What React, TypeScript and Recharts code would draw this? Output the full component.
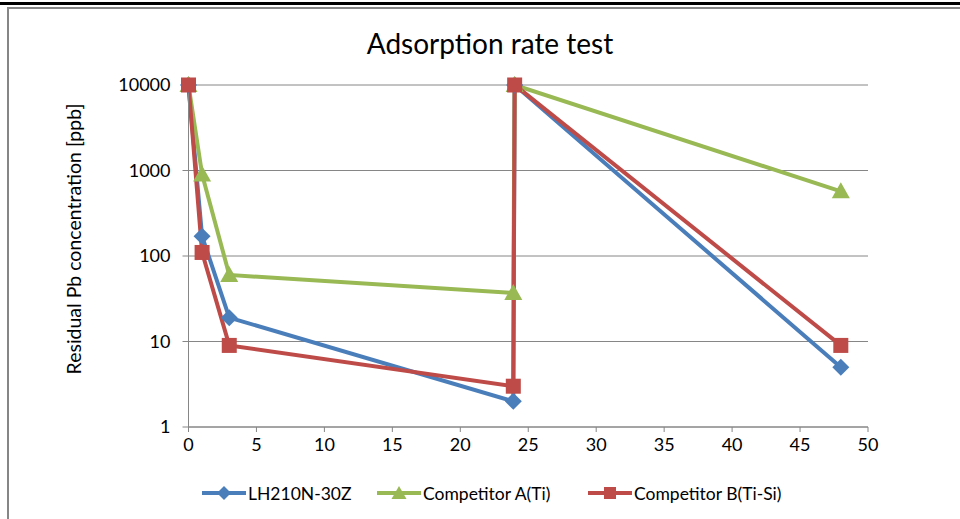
import React from 'react';
import { LineChart, Line, XAxis, YAxis, CartesianGrid, Legend, Label } from 'recharts';

const chartTitle = 'Adsorption rate test';
const yAxisTitle = 'Residual Pb concentration [ppb]';
const seriesNames = ['LH210N-30Z', 'Competitor A(Ti)', 'Competitor B(Ti-Si)'];
const seriesColors = ['#4A7EBB', '#98B954', '#BE4B48'];

const lhHours = [0, 1, 3, 23.9, 24, 48];
const lhValues = [10000, 170, 19, 2, 10000, 5];
const aHours = [0, 1, 3, 23.9, 24, 48];
const aValues = [10000, 900, 60, 37, 10000, 570];
const bHours = [0, 1, 3, 23.9, 24, 48];
const bValues = [10000, 110, 9, 3, 10000, 9];

const xTicks = [0, 5, 10, 15, 20, 25, 30, 35, 40, 45, 50];
const yTicks = [1, 10, 100, 1000, 10000];

const rows = (xs: number[], ys: number[]) => xs.map((x, i) => ({ x, y: ys[i] }));
const lhRows = rows(lhHours, lhValues);
const aRows = rows(aHours, aValues);
const bRows = rows(bHours, bValues);

const FONT = 'Lato, "Open Sans", sans-serif';

const DiamondDot = (p: any) => {
  const { cx, cy, fill } = p;
  if (cx == null || cy == null) return null;
  const r = 8.5;
  return <path d={`M${cx},${cy - r}L${cx + r},${cy}L${cx},${cy + r}L${cx - r},${cy}Z`} fill={fill} />;
};
const TriangleDot = (p: any) => {
  const { cx, cy, fill } = p;
  if (cx == null || cy == null) return null;
  return <path d={`M${cx},${cy - 9}L${cx + 9},${cy + 7}L${cx - 9},${cy + 7}Z`} fill={fill} />;
};
const SquareDot = (p: any) => {
  const { cx, cy, fill } = p;
  if (cx == null || cy == null) return null;
  return <rect x={cx - 7.5} y={cy - 7.5} width={15} height={15} fill={fill} />;
};

const legendIcon = (i: number) => {
  const c = seriesColors[i];
  return (
    <svg width={44} height={18} style={{ display: 'block' }}>
      <line x1={0} y1={9} x2={44} y2={9} stroke={c} strokeWidth={4} />
      {i === 0 && <path d="M22,2L29,9L22,16L15,9Z" fill={c} />}
      {i === 1 && <path d="M22,2L29.5,15L14.5,15Z" fill={c} />}
      {i === 2 && <rect x={16} y={3} width={12} height={12} fill={c} />}
    </svg>
  );
};

const renderLegend = () => (
  <div style={{ display: 'flex', alignItems: 'center', height: 20, fontFamily: FONT, fontSize: 17.5, color: '#000' }}>
    {seriesNames.map((n, i) => (
      <div key={n} style={{ display: 'flex', alignItems: 'center', position: 'absolute', left: [202, 377, 588][i] }}>
        {legendIcon(i)}
        <span style={{ marginLeft: 2, whiteSpace: 'nowrap' }}>{n}</span>
      </div>
    ))}
  </div>
);

export default function App() {
  return (
    <div style={{ position: 'fixed', left: 0, top: 0, width: 960, height: 519, background: '#fff', overflow: 'hidden' }}>
      <div style={{ position: 'absolute', left: 0, top: 2, width: 960, height: 3, background: '#000' }} />
      <div style={{ position: 'absolute', left: 7, top: 7, width: 953, height: 2, background: '#868686' }} />
      <div style={{ position: 'absolute', left: 7, top: 7, width: 2, height: 512, background: '#868686' }} />
      <div
        style={{
          position: 'absolute', left: 0, width: 980, top: 25, textAlign: 'center',
          fontFamily: FONT, fontSize: 28, color: '#000', lineHeight: '36px',
        }}
      >
        {chartTitle}
      </div>
      <LineChart width={960} height={519} margin={{ top: 85, right: 92, bottom: 42, left: 0 }} style={{ position: 'absolute', left: 0, top: 0 }}>
        <CartesianGrid vertical={false} stroke="#868686" strokeWidth={1} />
        <XAxis
          type="number"
          dataKey="x"
          domain={[0, 50]}
          ticks={xTicks}
          height={30}
          stroke="#868686"
          tickSize={5}
          tickMargin={6}
          tick={{ fill: '#000', fontFamily: FONT, fontSize: 18 }}
        />
        <YAxis
          type="number"
          scale="log"
          domain={[1, 10000]}
          ticks={yTicks}
          width={188.5}
          stroke="#868686"
          tickSize={6}
          tickMargin={12}
          tick={{ fill: '#000', fontFamily: FONT, fontSize: 18 }}
        >
          <Label
            content={() => (
              <text
                x={73}
                y={239}
                transform="rotate(-90, 73, 239)"
                textAnchor="middle"
                dominantBaseline="central"
                fontFamily={FONT}
                fontSize={19.5}
                fill="#000"
              >
                {yAxisTitle}
              </text>
            )}
          />
        </YAxis>
        <Legend
          verticalAlign="bottom"
          content={renderLegend}
          wrapperStyle={{ left: 0, top: 483, width: 960, height: 20 }}
        />
        <Line data={lhRows} dataKey="y" name={seriesNames[0]} stroke={seriesColors[0]} strokeWidth={4} fill={seriesColors[0]} dot={<DiamondDot />} activeDot={false} isAnimationActive={false} />
        <Line data={aRows} dataKey="y" name={seriesNames[1]} stroke={seriesColors[1]} strokeWidth={4} fill={seriesColors[1]} dot={<TriangleDot />} activeDot={false} isAnimationActive={false} />
        <Line data={bRows} dataKey="y" name={seriesNames[2]} stroke={seriesColors[2]} strokeWidth={4} fill={seriesColors[2]} dot={<SquareDot />} activeDot={false} isAnimationActive={false} />
      </LineChart>
    </div>
  );
}
